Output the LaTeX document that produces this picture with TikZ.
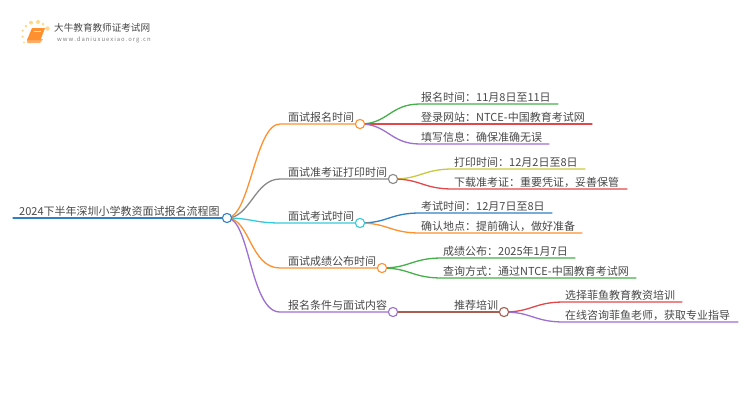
\documentclass[tikz,border=0pt]{standalone}
\usepackage{fontspec}
\setmainfont{Noto Sans CJK SC}
\usetikzlibrary{backgrounds,shapes.geometric}
\definecolor{cOrange}{HTML}{FF9030}
\definecolor{cGreen}{HTML}{45B04A}
\definecolor{cRed}{HTML}{E2474C}
\definecolor{cPurple}{HTML}{9C6FD0}
\definecolor{cGray}{HTML}{8A8A8A}
\definecolor{cCyan}{HTML}{35C9DC}
\definecolor{cBlue}{HTML}{2F80C4}
\definecolor{cOlive}{HTML}{C9C93F}
\definecolor{cBrown}{HTML}{A65F50}
\definecolor{cText}{HTML}{484848}
\definecolor{cSun}{HTML}{FFD98A}
\tikzset{
  x=1pt,y=-1pt,
  lab/.style={anchor=base west,inner sep=0pt,text=cText,font=\fontsize{11}{13}\selectfont},
  dot/.style={circle,draw=#1,fill=white,line width=1.1pt,minimum size=9.2pt,inner sep=0pt},
  wire/.style={draw=#1,line width=1.3pt,line cap=round},
  sun/.style={circle,fill=cSun,inner sep=0pt}
}
\newcommand{\lk}[4]{% colour, from, start, end
  \draw[wire=#1] (#2.center) .. controls +(28,0) and +(-30,0) .. (#3) -- (#4);}
\begin{document}
\begin{tikzpicture}
\useasboundingbox (0,0) rectangle (750,410);
% logo
\node[sun,minimum size=4.4pt] (s1) at (47.5,28.5) {};
\node[sun,minimum size=4pt] (s2) at (38,22) {};
\node[sun,minimum size=4pt] (s3) at (31,22.7) {};
\node[sun,minimum size=3pt] (s4) at (43,24) {};
\node[sun,minimum size=3pt] (s5) at (26,26) {};
\node[sun,minimum size=2.6pt] (s6) at (22.7,30.7) {};
\node[sun,minimum size=2.6pt] (s7) at (22.7,36.7) {};
\node[sun,minimum size=2pt] (s8) at (24,42.3) {};
\fill[cOrange!75!white] (27,40) -- (27.5,43) -- (40,43) -- (43,39) -- cycle;
\fill[cOrange] (27,40) -- (32,28) -- (45,28) -- (40.5,40) -- cycle;
\draw[yellow!70!white,line width=.6pt] (33.5,31) -- (41,31);
\node[anchor=base west,inner sep=0pt,text=black!72,font=\fontsize{9.6}{11}\selectfont] (logot) at (54,31.5) {大牛教育教师证考试网};
\node[anchor=base west,inner sep=0pt,text=black!50,font=\fontsize{5.9}{8}\selectfont] (logou) at (57,41.5) {w\,w\,w\,.\,d\,a\,n\,i\,u\,x\,u\,e\,x\,i\,a\,o\,.\,o\,r\,g\,.\,c\,n};
% named joints
\coordinate (rs) at (13,218);
\coordinate (b1) at (280,124); \coordinate (b2) at (280,179);
\coordinate (b3) at (280,223); \coordinate (b4) at (280,268);
\coordinate (b5) at (280,312);
\foreach \n/\x/\y in {a1s/420/104,a1e/558/104,a2s/420/124,a2e/592/124,a3s/420/144,a3e/549/144,
  c1s/453/169,c1e/585/169,c2s/453/189,c2e/627/189,
  d1s/420/213,d1e/552/213,d2s/420/233,d2e/582/233,
  e1s/442/258,e1e/575/258,e2s/442/278,e2e/636/278,
  f1s/564/302,f1e/682/302,f2s/564/322,f2e/738/322}
  {\coordinate (\n) at (\x,\y);}
% dots
\node[dot=cBlue] (root) at (227,218) {};
\node[dot=cOrange] (n1) at (360,124) {};
\node[dot=cGray] (n2) at (393,179) {};
\node[dot=cCyan] (n3) at (360,223) {};
\node[dot=cOrange] (n4) at (382,268) {};
\node[dot=cPurple] (n5) at (393,312) {};
\node[dot=cBrown] (n6) at (504,312) {};
% connectors
\begin{scope}[on background layer]
\draw[wire=cBlue] (rs) -- (root.center);
\draw[wire=cOrange] (root.center) .. controls (250,218) and (255,124) .. (b1) -- (n1.center);
\draw[wire=cGray] (root.center) .. controls (250,218) and (255,179) .. (b2) -- (n2.center);
\draw[wire=cCyan] (root.center) .. controls (250,218) and (255,223) .. (b3) -- (n3.center);
\draw[wire=cOrange] (root.center) .. controls (250,218) and (250,268) .. (b4) -- (n4.center);
\draw[wire=cPurple] (root.center) .. controls (250,218) and (250,312) .. (b5) -- (n5.center);
\lk{cGreen}{n1}{a1s}{a1e}
\lk{cRed}{n1}{a2s}{a2e}
\lk{cPurple}{n1}{a3s}{a3e}
\lk{cOlive}{n2}{c1s}{c1e}
\lk{cRed}{n2}{c2s}{c2e}
\lk{cBlue}{n3}{d1s}{d1e}
\lk{cOrange}{n3}{d2s}{d2e}
\lk{cGreen}{n4}{e1s}{e1e}
\lk{cGreen}{n4}{e2s}{e2e}
\draw[wire=cBrown] (n5.center) -- (n6.center);
\lk{cRed}{n6}{f1s}{f1e}
\lk{cPurple}{n6}{f2s}{f2e}
\end{scope}
% labels
\node[lab] (t0) at (19,215) {2024下半年深圳小学教资面试报名流程图};
\node[lab] (t1) at (288,121) {面试报名时间};
\node[lab] (t2) at (288,176) {面试准考证打印时间};
\node[lab] (t3) at (288,220) {面试考试时间};
\node[lab] (t4) at (288,265) {面试成绩公布时间};
\node[lab] (t5) at (288,309) {报名条件与面试内容};
\node[lab] (a1) at (421,101) {报名时间：11月8日至11日};
\node[lab] (a2) at (421,121) {登录网站：NTCE-中国教育考试网};
\node[lab] (a3) at (421,141) {填写信息：确保准确无误};
\node[lab] (c1) at (454,166) {打印时间：12月2日至8日};
\node[lab] (c2) at (454,186) {下载准考证：重要凭证，妥善保管};
\node[lab] (d1) at (421,210) {考试时间：12月7日至8日};
\node[lab] (d2) at (421,230) {确认地点：提前确认，做好准备};
\node[lab] (e1) at (443,255) {成绩公布：2025年1月7日};
\node[lab] (e2) at (443,275) {查询方式：通过NTCE-中国教育考试网};
\node[lab] (t6) at (454,309) {推荐培训};
\node[lab] (f1) at (565,299) {选择菲鱼教育教资培训};
\node[lab] (f2) at (565,319) {在线咨询菲鱼老师，获取专业指导};
\end{tikzpicture}
\end{document}
